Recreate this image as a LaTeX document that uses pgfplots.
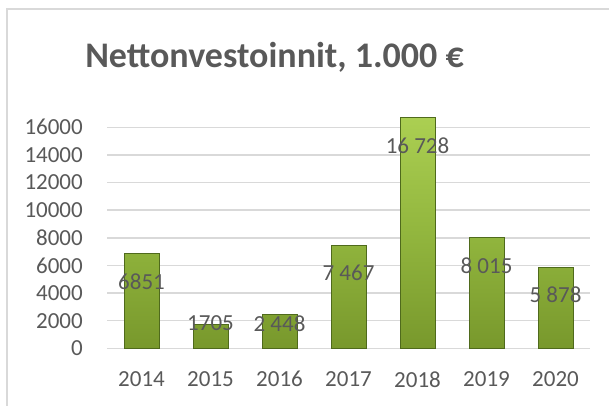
\documentclass[border=0pt]{standalone}
\usepackage{pgfplots}
\pgfplotsset{compat=1.18}
\usepackage{fontspec}
\setmainfont{Carlito}
\definecolor{txt}{HTML}{595959}
\definecolor{gridc}{HTML}{D9D9D9}
\definecolor{barTop}{HTML}{ABCF52}
\definecolor{barMid}{HTML}{92B63E}
\definecolor{barBot}{HTML}{78982C}
\definecolor{barEdge}{HTML}{4F6A1C}
\begin{document}
\begin{tikzpicture}
\useasboundingbox (0pt,0pt) rectangle (609pt,405pt);
\begin{scope}
\clip (0pt,0pt) rectangle (609pt,405pt);
\draw[gridc, line width=1.5pt] (7pt,-10pt) -- (7pt,396pt) -- (620pt,396pt);
\end{scope}
\node[txt, font=\fontsize{36}{42}\selectfont\bfseries, anchor=base, inner sep=0pt] at (274.5pt,337pt) {Nettonvestoinnit, 1.000 €};
\begin{axis}[
  at={(107pt,56.7pt)}, anchor=south west,
  scale only axis, width=483pt, height=234.8pt,
  xmin=-0.5, xmax=6.5, ymin=0, ymax=17000,
  axis line style={draw=none},
  major tick length=0pt,
  xtick={0,...,6}, xticklabels={2014,2015,2016,2017,2018,2019,2020},
  ytick={0,2000,...,16000},
  ymajorgrids, grid style={gridc, line width=1.4pt},
  tick label style={txt, font=\fontsize{23}{27}\selectfont, inner sep=0pt},
  yticklabel style={anchor=east, xshift=-24pt},
  xticklabel style={anchor=center, yshift=-31pt},
  /pgf/number format/assume math mode=true,
  /pgf/number format/1000 sep={},
  scaled y ticks=false,
  clip=false,
]
\addplot[ybar, bar width=35pt, draw=barEdge, line width=0.7pt,
  top color=barTop, bottom color=barBot, middle color=barMid]
  coordinates {(0,6851) (1,1705) (2,2448) (3,7467) (4,16728) (5,8015) (6,5878)};
\addplot[draw=none, mark=none, nodes near coords, point meta=explicit symbolic,
  nodes near coords style={txt, font=\fontsize{23}{27}\selectfont, anchor=center, inner sep=0pt}]
  coordinates {(0,4824)[6851] (1,1810)[1705] (2,1810)[2 448] (3,5440)[7 467] (4,14701)[16 728] (5,5988)[8 015] (6,3851)[5 878]};
\end{axis}
\end{tikzpicture}
\end{document}
